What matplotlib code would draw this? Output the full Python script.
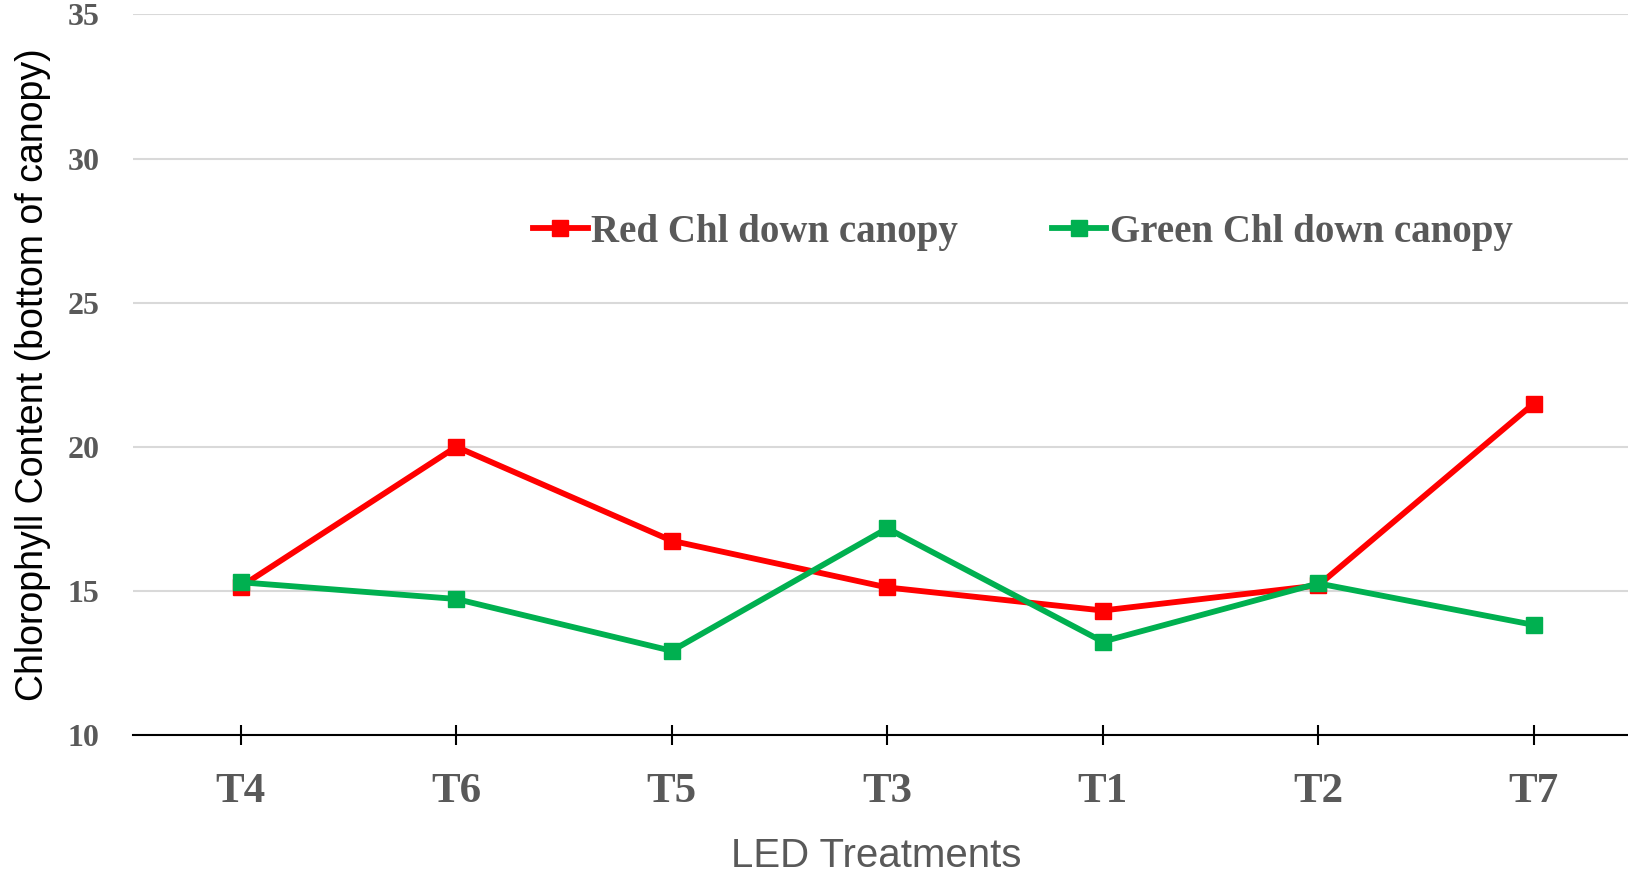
import matplotlib
matplotlib.use('Agg')
from matplotlib import pyplot as plt

treatments = ['T4', 'T6', 'T5', 'T3', 'T1', 'T2', 'T7']
red_chl = [15.15, 20.0, 16.74, 15.12, 14.32, 15.19, 21.5]
green_chl = [15.3, 14.72, 12.92, 17.17, 13.24, 15.26, 13.82]
yticks = [10, 15, 20, 25, 30, 35]

gray = '#595959'
serif = 'Liberation Serif'
sans = 'Liberation Sans'

fig = plt.figure(figsize=(16.28, 8.77), dpi=100)
ax = fig.add_axes([0.0817, 0.1619, 0.9266, 0.8216])

x = range(len(treatments))
ax.plot(x, red_chl, color='#FF0000', lw=4.2, marker='s', ms=11,
        label='Red Chl down canopy', zorder=3)
ax.plot(x, green_chl, color='#00B050', lw=4.2, marker='s', ms=11,
        label='Green Chl down canopy', zorder=4)

ax.set_xlim(-0.5, 6.5)
ax.set_ylim(10, 35)
ax.set_yticks(yticks)
ax.set_xticks(list(x))
ax.set_xticklabels(treatments, fontsize=31, fontweight='bold', color=gray, family=serif)
ax.set_yticklabels([str(v) for v in yticks], fontsize=23, fontweight='bold', color=gray, family=serif)

ax.grid(axis='y', color='#D9D9D9', lw=1.5)
ax.set_axisbelow(True)
for s in ['left', 'right', 'top']:
    ax.spines[s].set_visible(False)
ax.spines['bottom'].set_color('black')
ax.spines['bottom'].set_linewidth(1.5)
ax.spines['bottom'].set_zorder(2)

ax.tick_params(axis='y', length=0, pad=24)
ax.tick_params(axis='x', direction='inout', length=14, width=1.5, color='black', pad=20)

ax.set_ylabel('Chlorophyll Content (bottom of canopy)', fontsize=27, family=sans, color='black')
ax.yaxis.set_label_coords(-0.066, 0.5)
ax.yaxis.label.set_va('center')
ax.set_xlabel('LED Treatments', fontsize=29, family=sans, color=gray)
ax.xaxis.set_label_coords(0.493, -0.168)
ax.xaxis.label.set_va('center')

leg = ax.legend(loc='center', bbox_to_anchor=(0.59, 0.698), ncol=2, frameon=False,
                handlelength=1.4, handletextpad=0.1, columnspacing=2.4,
                prop={'family': serif, 'weight': 'bold', 'size': 28})
for t in leg.get_texts():
    t.set_color(gray)

fig.savefig('out.png', dpi=100)
